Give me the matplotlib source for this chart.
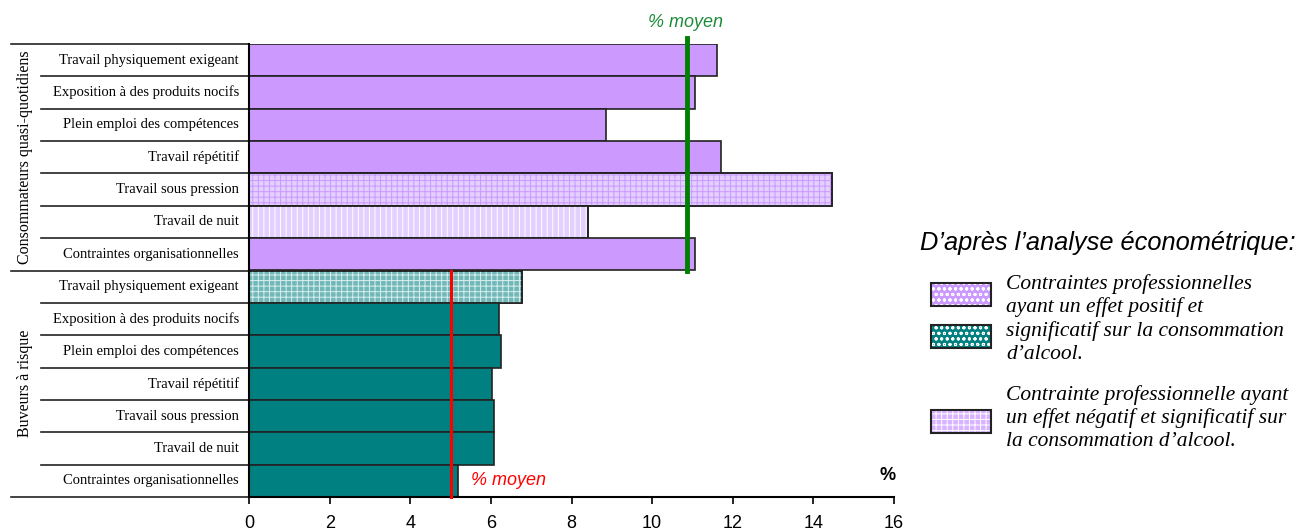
import matplotlib.pyplot as plt
import matplotlib.transforms as mtransforms
from matplotlib.patches import Rectangle
from matplotlib.lines import Line2D

# data
labels = ['Travail physiquement exigeant', 'Exposition à des produits nocifs',
          'Plein emploi des compétences', 'Travail répétitif',
          'Travail sous pression', 'Travail de nuit',
          'Contraintes organisationnelles']
quotidiens = [11.6, 11.07, 8.86, 11.7, 14.45, 8.41, 11.07]
risque = [6.77, 6.19, 6.25, 6.02, 6.08, 6.08, 5.18]
moyen_quotidiens = 10.87
moyen_risque = 5.0
groups = ['Consommateurs quasi-quotidiens', 'Buveurs à risque']
xticks = [0, 2, 4, 6, 8, 10, 12, 14, 16]

PURPLE = '#CC99FF'
TEAL = '#008080'

# hatch style per bar: (face, hatch, hatch colour) or None
styles_q = [None, None, None, None, ('#E4CFFF', '+++', '#C99AFF'),
            ('#E4D0FF', '|||', 'white'), None]
styles_r = [('#72B8B8', '+++', '#D8EEEE'), None, None, None, None, None, None]

plt.rcParams['hatch.linewidth'] = 0.7
serif = ['Liberation Serif', 'DejaVu Serif']
sans = ['Liberation Sans', 'DejaVu Sans']

fig = plt.figure(figsize=(13, 5.3), dpi=100)
ax = fig.add_axes((249 / 1300, 1 - 497 / 530, 645 / 1300, 453 / 530))

n = len(labels)
ypos_q = list(range(n))
ypos_r = list(range(n, 2 * n))


def draw_bars(ypos, vals, base, styles):
    for y, v, st in zip(ypos, vals, styles):
        face = base if st is None else st[0]
        ax.barh(y, v, height=1.0, color=face, edgecolor='#222222', linewidth=1.2, zorder=2)
        if st is not None:
            ax.barh(y, v, height=1.0, color='none', edgecolor=st[2], hatch=st[1],
                    linewidth=0, zorder=2)
            ax.barh(y, v, height=1.0, color='none', edgecolor='#222222', linewidth=1.2, zorder=2)


draw_bars(ypos_q, quotidiens, PURPLE, styles_q)
draw_bars(ypos_r, risque, TEAL, styles_r)

ax.set_xlim(0, 16)
ax.set_ylim(2 * n - 0.5, -0.5)
ax.set_yticks([])
ax.set_xticks(xticks)
ax.set_xticklabels([str(t) for t in xticks], fontsize=13, family=sans)
ax.tick_params(axis='x', direction='out', length=5, width=1.2, pad=8)
ax.spines['top'].set_visible(False)
ax.spines['right'].set_visible(False)
ax.spines['left'].set_linewidth(1.5)
ax.spines['bottom'].set_linewidth(1.5)

# mean lines
ax.plot([moyen_quotidiens, moyen_quotidiens], [-0.68, n - 0.5], color='#008000', lw=3.5, zorder=3, clip_on=False)
ax.plot([moyen_risque, moyen_risque], [n - 0.5, 2 * n - 0.5], color='#FF0000', lw=2.2, zorder=3, clip_on=False)
ax.text(moyen_quotidiens - 0.05, -1.15, '% moyen', color='#1E8C3A', fontsize=13, style='italic',
        family=sans, ha='center', va='center')
ax.text(moyen_risque + 0.5, 2 * n - 1, '% moyen', color='#FF0000', fontsize=13, style='italic',
        family=sans, ha='left', va='center')
ax.text(16.05, 2 * n - 1.15, '%', fontsize=13, family=sans, fontweight='bold',
        ha='right', va='center')

# label table on the left
tr = mtransforms.blended_transform_factory(fig.transFigure, ax.transData)
for ypos in (ypos_q, ypos_r):
    for y, lab in zip(ypos, labels):
        ax.text(239 / 1300, y, lab, transform=tr, ha='right', va='center',
                fontsize=10.5, family=serif)
for i in range(2 * n + 1):
    y = i - 0.5
    x0 = 11 / 1300 if i in (0, n, 2 * n) else 41 / 1300
    ax.add_line(Line2D([x0, 249 / 1300], [y, y], transform=tr, color='#222222',
                       lw=1.2, clip_on=False))
ax.text(25 / 1300, (n - 1) / 2, groups[0], transform=tr, rotation=90, ha='center',
        va='center', fontsize=11.5, family=serif)
ax.text(25 / 1300, n + (n - 1) / 2, groups[1], transform=tr, rotation=90, ha='center',
        va='center', fontsize=11.5, family=serif)

# legend drawn by hand
fig.text(920 / 1300, 1 - 243 / 530, "D’après l’analyse économétrique:", fontsize=18.3,
         style='italic', family=sans, ha='left', va='center')
leg_boxes = [(283, PURPLE, 'ooo'), (325, TEAL, 'ooo'), (410, '#D9B3FF', '+++')]
for ytop, col, h in leg_boxes:
    yb = 1 - (ytop + 23) / 530
    fig.add_artist(Rectangle((931 / 1300, yb), 60 / 1300, 23 / 530, transform=fig.transFigure,
                             facecolor=col, edgecolor='white', hatch=h, lw=0))
    fig.add_artist(Rectangle((931 / 1300, yb), 60 / 1300, 23 / 530, transform=fig.transFigure,
                             facecolor='none', edgecolor='#222222', lw=1.5))
legend_lines1 = ['Contraintes professionnelles', 'ayant un effet positif et',
                 'significatif sur la consommation', 'd’alcool.']
legend_lines2 = ['Contrainte professionnelle ayant', 'un effet négatif et significatif sur',
                 'la consommation d’alcool.']
for k, t in enumerate(legend_lines1):
    fig.text(1006 / 1300, 1 - (284 + 23.5 * k) / 530, t, fontsize=15.5, style='italic',
             family=serif, ha='left', va='center')
for k, t in enumerate(legend_lines2):
    fig.text(1006 / 1300, 1 - (395 + 23.5 * k) / 530, t, fontsize=15.5, style='italic',
             family=serif, ha='left', va='center')

fig.savefig('out.png', dpi=100)
